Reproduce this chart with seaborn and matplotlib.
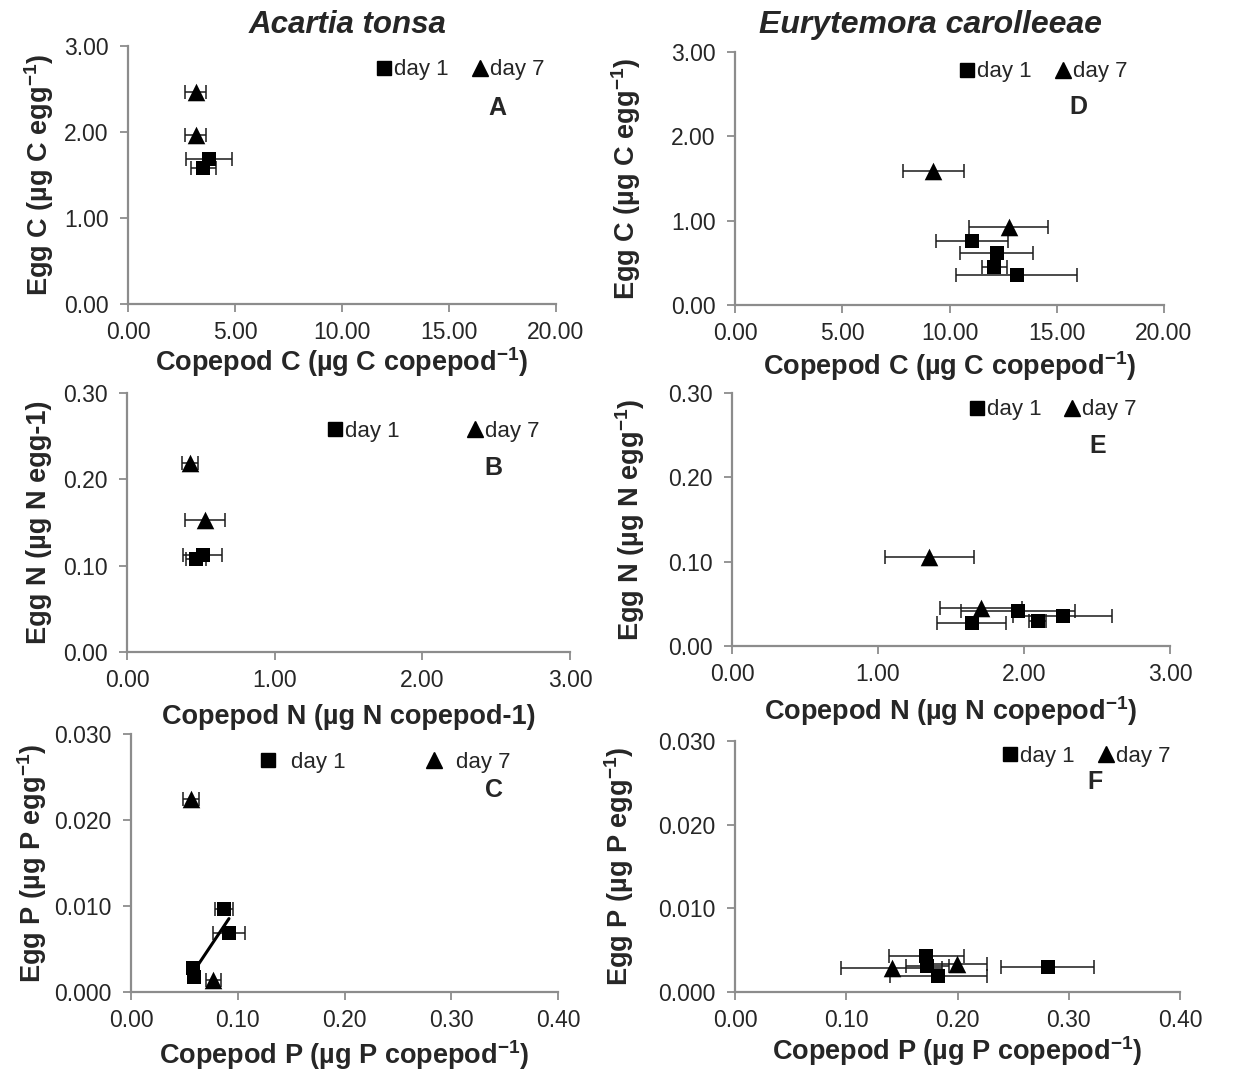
import numpy as np
import pandas as pd
import matplotlib
matplotlib.use("Agg")
import matplotlib.pyplot as plt
from matplotlib.lines import Line2D
from matplotlib.ticker import FormatStrFormatter
import seaborn as sns

sns.set_style("ticks")
plt.rcParams['font.family'] = ['Liberation Sans', 'DejaVu Sans']
plt.rcParams['mathtext.fontset'] = 'custom'
plt.rcParams['mathtext.rm'] = 'Liberation Sans:bold'
plt.rcParams['mathtext.default'] = 'rm'

# ---------------- data ----------------
# Panel A  (Acartia tonsa, carbon)
A_d1_x = [3.78, 3.52];  A_d1_y = [1.69, 1.58];  A_d1_xerr = [1.08, 0.59]
A_d7_x = [3.16, 3.16];  A_d7_y = [2.47, 1.965]; A_d7_xerr = [0.48, 0.48]
# Panel B  (Acartia tonsa, nitrogen)
B_d1_x = [0.513, 0.468]; B_d1_y = [0.1124, 0.108]; B_d1_xerr = [0.131, 0.068]
B_d7_x = [0.427, 0.529]; B_d7_y = [0.219, 0.153];  B_d7_xerr = [0.052, 0.133]
# Panel C  (Acartia tonsa, phosphorus)
C_d1_x = [0.0872, 0.0918, 0.0584, 0.0593]; C_d1_y = [0.00965, 0.00686, 0.0028, 0.00174]
C_d1_xerr = [0.0087, 0.015, 0.003, 0.003]
C_d7_x = [0.056, 0.0772]; C_d7_y = [0.0225, 0.00135]; C_d7_xerr = [0.0075, 0.0072]
# Panel D  (Eurytemora carolleeae, carbon)
D_d1_x = [11.06, 12.2, 12.09, 13.13]; D_d1_y = [0.76, 0.62, 0.45, 0.355]
D_d1_xerr = [1.68, 1.71, 0.57, 2.83]
D_d7_x = [9.25, 12.76]; D_d7_y = [1.59, 0.93]; D_d7_xerr = [1.41, 1.83]
# Panel E  (Eurytemora carolleeae, nitrogen)
E_d1_x = [1.961, 2.265, 2.094, 1.642]; E_d1_y = [0.0415, 0.0356, 0.030, 0.0276]
E_d1_xerr = [0.39, 0.34, 0.057, 0.238]
E_d7_x = [1.351, 1.705]; E_d7_y = [0.106, 0.0447]; E_d7_xerr = [0.305, 0.28]
# Panel F  (Eurytemora carolleeae, phosphorus)
F_d1_x = [0.172, 0.173, 0.1828, 0.281]; F_d1_y = [0.00432, 0.00313, 0.00194, 0.00293]
F_d1_xerr = [0.0337, 0.019, 0.0434, 0.0419]
F_d7_x = [0.141, 0.1998]; F_d7_y = [0.0029, 0.00337]; F_d7_xerr = [0.0455, 0.0267]

x_labels = {
    'A': r'Copepod C (µg C copepod$^{-1}$)',
    'B': 'Copepod N (µg N copepod-1)',
    'C': r'Copepod P (µg P copepod$^{-1}$)',
    'D': r'Copepod C (µg C copepod$^{-1}$)',
    'E': r'Copepod N (µg N copepod$^{-1}$)',
    'F': r'Copepod P (µg P copepod$^{-1}$)',
}
y_labels = {
    'A': r'Egg C (µg C egg$^{-1}$)',
    'B': 'Egg N (µg N egg-1)',
    'C': r'Egg P (µg P egg$^{-1}$)',
    'D': r'Egg C (µg C egg$^{-1}$)',
    'E': r'Egg N (µg N egg$^{-1}$)',
    'F': r'Egg P (µg P egg$^{-1}$)',
}
titles = ['Acartia tonsa', 'Eurytemora carolleeae']
legend_labels = ['day 1', 'day 7']

panels = {
    'A': (A_d1_x, A_d1_y, A_d1_xerr, A_d7_x, A_d7_y, A_d7_xerr),
    'B': (B_d1_x, B_d1_y, B_d1_xerr, B_d7_x, B_d7_y, B_d7_xerr),
    'C': (C_d1_x, C_d1_y, C_d1_xerr, C_d7_x, C_d7_y, C_d7_xerr),
    'D': (D_d1_x, D_d1_y, D_d1_xerr, D_d7_x, D_d7_y, D_d7_xerr),
    'E': (E_d1_x, E_d1_y, E_d1_xerr, E_d7_x, E_d7_y, E_d7_xerr),
    'F': (F_d1_x, F_d1_y, F_d1_xerr, F_d7_x, F_d7_y, F_d7_xerr),
}

# ---------------- layout ----------------
W, H = 1234, 1074
fig = plt.figure(figsize=(W / 100, H / 100), dpi=100)

def rect(l, r, t, b):
    return [l / W, 1 - b / H, (r - l) / W, (b - t) / H]

axes_px = {
    'A': (128, 556, 46, 304),
    'B': (127, 570, 393, 652),
    'C': (131, 558, 734, 992),
    'D': (735, 1164, 52, 305),
    'E': (732, 1170, 393, 646),
    'F': (735, 1180, 741, 992),
}
limits = {
    'A': ((0, 20), (0, 3), np.arange(0, 20.1, 5), np.arange(0, 3.01, 1), '%.2f', '%.2f'),
    'B': ((0, 3), (0, 0.3), np.arange(0, 3.01, 1), np.arange(0, 0.301, 0.1), '%.2f', '%.2f'),
    'C': ((0, 0.4), (0, 0.03), np.arange(0, 0.401, 0.1), np.arange(0, 0.0301, 0.01), '%.2f', '%.3f'),
    'D': ((0, 20), (0, 3), np.arange(0, 20.1, 5), np.arange(0, 3.01, 1), '%.2f', '%.2f'),
    'E': ((0, 3), (0, 0.3), np.arange(0, 3.01, 1), np.arange(0, 0.301, 0.1), '%.2f', '%.2f'),
    'F': ((0, 0.4), (0, 0.03), np.arange(0, 0.401, 0.1), np.arange(0, 0.0301, 0.01), '%.2f', '%.3f'),
}
legend_pos = {
    'A': (0.776, 0.907, 1.0, 0.05),
    'B': (0.69, 0.853, 3.0, 0.05),
    'C': (0.595, 0.891, 3.6, 0.6),
    'D': (0.718, 0.921, 1.0, 0.05),
    'E': (0.731, 0.933, 1.0, 0.05),
    'F': (0.789, 0.94, 1.0, 0.05),
}
letter_pos = {
    'A': (0.862, 0.76), 'B': (0.828, 0.71), 'C': (0.85, 0.783),
    'D': (0.80, 0.783), 'E': (0.836, 0.79), 'F': (0.809, 0.837),
}
# (xlabel pad, ylabel pad) in points
label_pads = {
    'A': (1, 6), 'B': (9, 8), 'C': (5, 4),
    'D': (3, 20), 'E': (6, 15), 'F': (2, 16),
}

spine_col = '#8c8c8c'
tick_col = '#262626'

for key, (x1, y1, e1, x7, y7, e7) in panels.items():
    ax = fig.add_axes(rect(*axes_px[key]))
    df1 = pd.DataFrame({'x': x1, 'y': y1, 'xerr': e1})
    df7 = pd.DataFrame({'x': x7, 'y': y7, 'xerr': e7})
    ax.errorbar(df1['x'], df1['y'], xerr=df1['xerr'], fmt='none', ecolor='#1a1a1a',
                elinewidth=1.1, capsize=5, capthick=1.1, zorder=2)
    ax.errorbar(df7['x'], df7['y'], xerr=df7['xerr'], fmt='none', ecolor='#1a1a1a',
                elinewidth=1.1, capsize=5, capthick=1.1, zorder=2)
    sns.scatterplot(data=df1, x='x', y='y', marker='s', s=110, color='black',
                    edgecolor='black', linewidth=0, ax=ax, zorder=3)
    sns.scatterplot(data=df7, x='x', y='y', marker='^', s=160, color='black',
                    edgecolor='black', linewidth=0, ax=ax, zorder=3)
    if key == 'C':
        sns.regplot(data=df1, x='x', y='y', scatter=False, ci=None, truncate=True,
                    line_kws=dict(color='black', lw=2.2, zorder=4), ax=ax)

    xl, yl, xt, yt, xf, yf = limits[key]
    ax.set_xlim(*xl); ax.set_ylim(*yl)
    ax.set_xticks(xt); ax.set_yticks(yt)
    ax.xaxis.set_major_formatter(FormatStrFormatter(xf))
    ax.yaxis.set_major_formatter(FormatStrFormatter(yf))
    ax.tick_params(axis='both', labelsize=16.5, colors=spine_col, labelcolor=tick_col,
                   length=6, width=1.3, direction='out')
    ax.tick_params(axis='y', pad=8)
    ax.tick_params(axis='x', pad=6)
    for s in ['top', 'right']:
        ax.spines[s].set_visible(False)
    for s in ['left', 'bottom']:
        ax.spines[s].set_color(spine_col)
        ax.spines[s].set_linewidth(1.6)
    xp, yp = label_pads[key]
    ax.set_xlabel(x_labels[key], fontsize=19.5, fontweight='bold', labelpad=xp)
    ax.set_ylabel(y_labels[key], fontsize=19.5, fontweight='bold', labelpad=yp)

    lx, ly, cs, htp = legend_pos[key]
    handles = [Line2D([], [], marker='s', color='black', ls='none', ms=10.5),
               Line2D([], [], marker='^', color='black', ls='none', ms=11.5)]
    ax.legend(handles, legend_labels, loc='center', bbox_to_anchor=(lx, ly), ncol=2,
              frameon=False, fontsize=16, handlelength=0.8, handletextpad=htp,
              columnspacing=cs, borderpad=0, borderaxespad=0)
    lpx, lpy = letter_pos[key]
    ax.text(lpx, lpy, key, transform=ax.transAxes, ha='center', va='center',
            fontsize=18, fontweight='bold')

fig.text(348 / W, 1 - 25 / H, titles[0], ha='center', va='center', fontsize=22.5,
         fontweight='bold', fontstyle='italic')
fig.text(930 / W, 1 - 25 / H, titles[1], ha='center', va='center', fontsize=23,
         fontweight='bold', fontstyle='italic')

fig.savefig('out.png', dpi=100)
